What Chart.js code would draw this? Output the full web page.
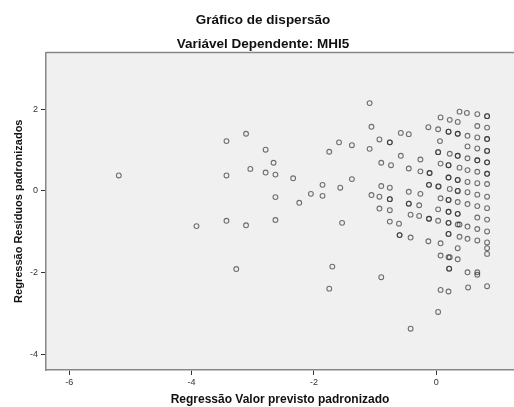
<!DOCTYPE html>
<html>
<head>
<meta charset="utf-8">
<script src="https://cdn.jsdelivr.net/npm/chart.js@4.4.1/dist/chart.umd.min.js"></script>
<style>
  body { margin: 0; background: #fff; }
  canvas { display: block; }
</style>
</head>
<body>
<canvas id="myChart" width="514" height="407"></canvas>
<script>
// Regressão Valor previsto padronizado (x) / Resíduos padronizados (y)
var predicted = [
    -5.19, -3.43, -3.11, -2.79, -2.66, -3.04, -3.43, -2.79, -2.63, -2.34, -2.63, -2.24, -3.92, -3.43, -3.11, -2.63, -3.27,
    -1.09, -1.06, -1.59, -1.38, -1.75, -1.09, -0.93, -0.76, -0.76, -0.58, -0.45, -0.90, -0.74, -0.58, -0.45,
    -1.86, -1.38, -2.05, -1.86, -1.57, -0.90, -0.76, -1.06, -0.93, -0.76, -0.76, -0.45, -0.45, -0.45, -0.28,
    -0.93, -0.76, -0.42, -0.28, -1.54, -0.76, -0.61, -0.60, -0.60, -0.42, -1.70, -0.90, -1.75, -0.42,
    -0.26, -0.26, -0.26,
    -0.13, -0.11, -0.11, -0.12, -0.12, -0.12, -0.12, -0.13,
    0.07, 0.03, 0.06, 0.03, 0.03, 0.07, 0.03, 0.04, 0.07, 0.03, 0.03, 0.07, 0.07, 0.07, 0.03,
    0.22, 0.20, 0.20, 0.22, 0.20, 0.20, 0.20, 0.20, 0.22, 0.20, 0.20, 0.20, 0.20, 0.20, 0.20, 0.20, 0.20, 0.20, 0.22, 0.21, 0.21, 0.20,
    0.38, 0.35, 0.35, 0.35, 0.35, 0.35, 0.38, 0.35, 0.35, 0.35, 0.35, 0.35, 0.35, 0.35, 0.35, 0.38, 0.38, 0.35, 0.35,
    0.52, 0.50, 0.51, 0.51, 0.51, 0.51, 0.51, 0.51, 0.51, 0.51, 0.51, 0.51,
    0.67, 0.67, 0.67, 0.67, 0.67, 0.67, 0.67, 0.67, 0.67, 0.67, 0.67, 0.67, 0.67, 0.67, 0.67,
    0.83, 0.83, 0.83, 0.83, 0.83, 0.83, 0.83, 0.83, 0.83, 0.83, 0.83, 0.83, 0.83, 0.83, 0.83, 0.83, 0.83, 0.83, 0.83, 0.83
];
var residuals = [
    0.38, 1.22, 1.40, 1.01, 0.69, 0.54, 0.38, 0.45, 0.40, 0.31, -0.15, -0.29, -0.86, -0.73, -0.84, -0.71, -1.91,
    2.15, 1.57, 1.19, 1.12, 0.96, 1.03, 1.26, 1.19, 1.19, 1.42, 1.39, 0.69, 0.63, 0.86, 0.55,
    0.15, 0.29, -0.07, -0.12, 0.08, 0.12, 0.08, -0.10, -0.14, -0.20, -0.20, -0.02, -0.31, -0.31, -0.35,
    -0.43, -0.47, -0.58, -0.61, -0.78, -0.75, -0.80, -1.08, -1.08, -1.14, -1.85, -2.11, -2.39, -3.37,
    0.77, 0.48, -0.07,
    1.56, 0.44, 0.44, 0.15, 0.15, -0.68, -0.68, -1.23,
    1.80, 1.51, 1.22, 0.95, 0.95, 0.67, 0.11, 0.11, -0.18, -0.45, -0.73, -1.28, -1.58, -2.42, -2.96,
    1.74, 1.45, 1.45, 0.91, 0.63, 0.63, 0.33, 0.33, 0.05, -0.22, -0.22, -0.51, -0.51, -0.78, -0.78, -1.05, -1.05, -1.62, -1.62, -1.90, -1.90, -2.46,
    1.94, 1.69, 1.40, 1.40, 0.86, 0.86, 0.57, 0.27, 0.27, 0.00, 0.00, -0.27, -0.56, -0.56, -0.82, -0.82, -1.12, -1.40, -1.67, -2.36,
    1.91, 1.35, 1.09, 0.80, 0.51, 0.22, -0.03, -0.32, -0.87, -1.17, -1.99, -1.99,
    1.88, 1.59, 1.31, 1.04, 0.75, 0.75, 0.47, 0.19, -0.09, -0.37, -0.65, -0.93, -1.21, -2.05, -2.33,
    1.83, 1.83, 1.55, 1.27, 1.27, 0.98, 0.98, 0.70, 0.70, 0.42, 0.42, 0.17, -0.14, -0.42, -0.70, -0.99, -1.26, -1.40, -1.54, -1.82
];
var xTicks = [-6, -4, -2, 0];
var yTicks = [-4, -2, 0, 2];

var chartTitle = "Gráfico de dispersão";
var chartSubtitle = "Variável Dependente: MHI5";
var xTitle = "Regressão Valor previsto padronizado";
var yTitle = "Regressão Resíduos padronizados";

var points = [];
for (var i = 0; i < Math.min(predicted.length, residuals.length); i++) {
    points.push({x: predicted[i], y: residuals[i]});
}

Chart.defaults.font.family = "'Liberation Sans', Arial, sans-serif";
Chart.defaults.color = "#222";

// grey plot background and top frame line, like SPSS
var plotFrame = {
    id: "plotFrame",
    beforeDraw: function (chart) {
        var a = chart.chartArea, ctx = chart.ctx;
        ctx.save();
        ctx.fillStyle = "#f0f0f0";
        ctx.fillRect(a.left, a.top, a.right - a.left, a.bottom - a.top);
        ctx.strokeStyle = "#888";
        ctx.lineWidth = 1.5;
        ctx.beginPath();
        ctx.moveTo(a.left, a.top);
        ctx.lineTo(a.right, a.top);
        ctx.stroke();
        ctx.restore();
    }
};

new Chart("myChart", {
    type: "scatter",
    data: {
        datasets: [{
            data: points,
            pointRadius: 2.4,
            pointBorderWidth: 1.1,
            pointBackgroundColor: "rgba(0,0,0,0)",
            pointBorderColor: "rgba(30,30,30,0.62)"
        }]
    },
    options: {
        responsive: false,
        animation: false,
        layout: {autoPadding: false, padding: {left: 12, right: 0, top: 0, bottom: 0}},
        plugins: {
            legend: {display: false},
            tooltip: {enabled: false},
            title: {
                display: true,
                text: chartTitle,
                color: "#111",
                font: {size: 13.5, weight: "bold"},
                padding: {top: 12, bottom: 0}
            },
            subtitle: {
                display: true,
                text: chartSubtitle,
                color: "#111",
                font: {size: 13.5, weight: "bold"},
                padding: {top: 8, bottom: 0}
            }
        },
        scales: {
            x: {
                type: "linear",
                min: -6.38,
                max: 1.27,
                afterBuildTicks: function (s) { s.ticks = xTicks.map(function (v) { return {value: v}; }); },
                afterFit: function (s) { s.height = 37; },
                grid: {drawOnChartArea: false, drawTicks: true, tickLength: 5, tickColor: "#333"},
                border: {display: true, color: "#888", width: 1.5},
                ticks: {font: {size: 9}, color: "#333", padding: 2, maxRotation: 0},
                title: {display: true, text: xTitle, color: "#111", font: {size: 12, weight: "bold"}, padding: 0}
            },
            y: {
                type: "linear",
                min: -4.38,
                max: 3.39,
                afterBuildTicks: function (s) { s.ticks = yTicks.map(function (v) { return {value: v}; }); },
                afterFit: function (s) { s.width = 34; },
                grid: {drawOnChartArea: false, drawTicks: true, tickLength: 5, tickColor: "#333"},
                border: {display: true, color: "#888", width: 1.5},
                ticks: {font: {size: 9}, color: "#333", padding: 3},
                title: {display: true, text: yTitle, color: "#111", font: {size: 11, weight: "bold"}, padding: 0}
            }
        }
    },
    plugins: [plotFrame]
});
</script>
</body>
</html>
